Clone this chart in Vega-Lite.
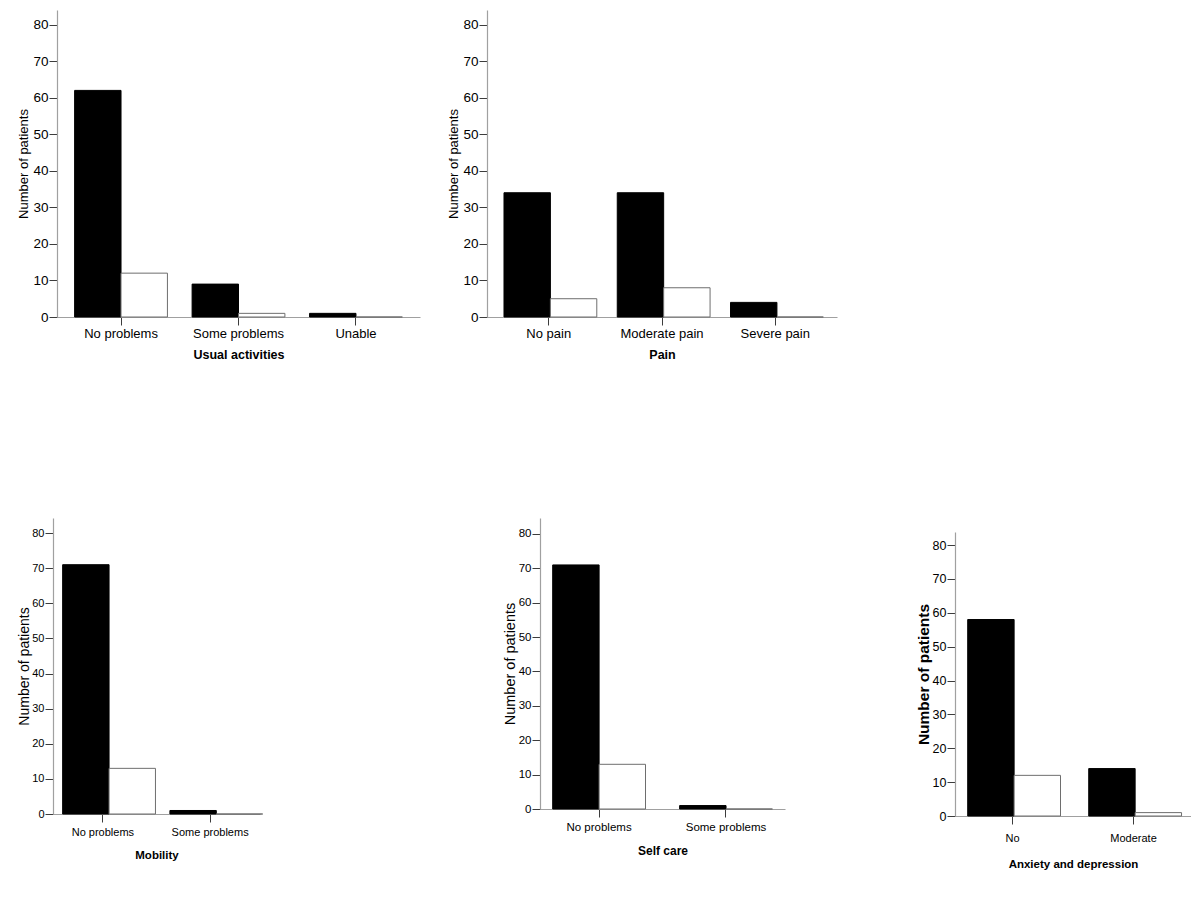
{
  "$schema": "https://vega.github.io/schema/vega-lite/v6.json",
  "padding": {"left": 17, "top": 10, "right": 0, "bottom": 0},
  "background": "#ffffff",
  "spacing": 157,
  "vconcat": [
    {
      "hconcat": [
        {
          "width": 4, "height": 10,
          "data": {"values": []},
          "mark": "point",
          "encoding": {}
        },
        {
          "width": 363, "height": 307,
          "data": {"values": [
            {"level": "No problems", "group": "Group A", "patients": 62},
            {"level": "No problems", "group": "Group B", "patients": 12},
            {"level": "Some problems", "group": "Group A", "patients": 9},
            {"level": "Some problems", "group": "Group B", "patients": 1},
            {"level": "Unable", "group": "Group A", "patients": 1},
            {"level": "Unable", "group": "Group B", "patients": 0}
          ]},
          "mark": {"type": "bar", "strokeWidth": 1},
          "encoding": {
            "x": {"field": "level", "type": "nominal", "sort": ["No problems", "Some problems", "Unable"], "scale": {"paddingInner": 0.21, "paddingOuter": 0.15}, "title": "Usual activities", "axis": {"labelFontSize": 13, "titleFontSize": 12.5, "labelPadding": 2, "titlePadding": 8}},
            "xOffset": {"field": "group", "type": "nominal", "sort": ["Group A", "Group B"]},
            "y": {"field": "patients", "type": "quantitative", "scale": {"domain": [0, 84], "nice": false}, "title": "Number of patients", "axis": {"values": [0, 10, 20, 30, 40, 50, 60, 70, 80], "labelFontSize": 13.5, "titleFontSize": 13, "titlePadding": 2}},
            "fill": {"field": "group", "type": "nominal", "scale": {"domain": ["Group A", "Group B"], "range": ["#000000", "#ffffff"]}, "legend": null},
            "stroke": {"field": "group", "type": "nominal", "scale": {"domain": ["Group A", "Group B"], "range": ["#000000", "#6e6e6e"]}, "legend": null}
          }
        },
        {
          "width": 67, "height": 10,
          "data": {"values": []},
          "mark": "point",
          "encoding": {}
        },
        {
          "width": 350, "height": 307,
          "data": {"values": [
            {"level": "No pain", "group": "Group A", "patients": 34},
            {"level": "No pain", "group": "Group B", "patients": 5},
            {"level": "Moderate pain", "group": "Group A", "patients": 34},
            {"level": "Moderate pain", "group": "Group B", "patients": 8},
            {"level": "Severe pain", "group": "Group A", "patients": 4},
            {"level": "Severe pain", "group": "Group B", "patients": 0}
          ]},
          "mark": {"type": "bar", "strokeWidth": 1},
          "encoding": {
            "x": {"field": "level", "type": "nominal", "sort": ["No pain", "Moderate pain", "Severe pain"], "scale": {"paddingInner": 0.21, "paddingOuter": 0.15}, "title": "Pain", "axis": {"labelFontSize": 13, "titleFontSize": 12.5, "labelPadding": 2, "titlePadding": 8}},
            "xOffset": {"field": "group", "type": "nominal", "sort": ["Group A", "Group B"]},
            "y": {"field": "patients", "type": "quantitative", "scale": {"domain": [0, 84], "nice": false}, "title": "Number of patients", "axis": {"values": [0, 10, 20, 30, 40, 50, 60, 70, 80], "labelFontSize": 13.5, "titleFontSize": 13, "titlePadding": 2}},
            "fill": {"field": "group", "type": "nominal", "scale": {"domain": ["Group A", "Group B"], "range": ["#000000", "#ffffff"]}, "legend": null},
            "stroke": {"field": "group", "type": "nominal", "scale": {"domain": ["Group A", "Group B"], "range": ["#000000", "#6e6e6e"]}, "legend": null}
          }
        }
      ],
      "spacing": 0,
      "bounds": "flush"
    },
    {
      "hconcat": [
        {
          "width": 207, "height": 296,
          "data": {"values": [
            {"level": "No problems", "group": "Group A", "patients": 71},
            {"level": "No problems", "group": "Group B", "patients": 13},
            {"level": "Some problems", "group": "Group A", "patients": 1},
            {"level": "Some problems", "group": "Group B", "patients": 0}
          ]},
          "mark": {"type": "bar", "strokeWidth": 1},
          "encoding": {
            "x": {"field": "level", "type": "nominal", "sort": ["No problems", "Some problems"], "scale": {"paddingInner": 0.25, "paddingOuter": 0.09}, "title": "Mobility", "axis": {"labelFontSize": 11, "titleFontSize": 11.5, "labelPadding": 4, "titlePadding": 12}},
            "xOffset": {"field": "group", "type": "nominal", "sort": ["Group A", "Group B"]},
            "y": {"field": "patients", "type": "quantitative", "scale": {"domain": [0, 84.3], "nice": false}, "title": "Number of patients", "axis": {"values": [0, 10, 20, 30, 40, 50, 60, 70, 80], "labelFontSize": 11, "titleFontSize": 14, "titlePadding": 0.5}},
            "fill": {"field": "group", "type": "nominal", "scale": {"domain": ["Group A", "Group B"], "range": ["#000000", "#ffffff"]}, "legend": null},
            "stroke": {"field": "group", "type": "nominal", "scale": {"domain": ["Group A", "Group B"], "range": ["#000000", "#6e6e6e"]}, "legend": null}
          }
        },
        {
          "width": 280, "height": 10,
          "data": {"values": []},
          "mark": "point",
          "encoding": {}
        },
        {
          "width": 245, "height": 291,
          "data": {"values": [
            {"level": "No problems", "group": "Group A", "patients": 71},
            {"level": "No problems", "group": "Group B", "patients": 13},
            {"level": "Some problems", "group": "Group A", "patients": 1},
            {"level": "Some problems", "group": "Group B", "patients": 0}
          ]},
          "mark": {"type": "bar", "strokeWidth": 1},
          "encoding": {
            "x": {"field": "level", "type": "nominal", "sort": ["No problems", "Some problems"], "scale": {"paddingInner": 0.27, "paddingOuter": 0.1}, "title": "Self care", "axis": {"labelFontSize": 11.5, "titleFontSize": 12, "labelPadding": 4.5, "titlePadding": 12}},
            "xOffset": {"field": "group", "type": "nominal", "sort": ["Group A", "Group B"]},
            "y": {"field": "patients", "type": "quantitative", "scale": {"domain": [0, 84.65], "nice": false}, "title": "Number of patients", "axis": {"values": [0, 10, 20, 30, 40, 50, 60, 70, 80], "labelFontSize": 11.5, "titleFontSize": 14.5, "titlePadding": 0.5}},
            "fill": {"field": "group", "type": "nominal", "scale": {"domain": ["Group A", "Group B"], "range": ["#000000", "#ffffff"]}, "legend": null},
            "stroke": {"field": "group", "type": "nominal", "scale": {"domain": ["Group A", "Group B"], "range": ["#000000", "#6e6e6e"]}, "legend": null}
          }
        },
        {
          "width": 170, "height": 10,
          "data": {"values": []},
          "mark": "point",
          "encoding": {}
        },
        {
          "vconcat": [
            {
              "width": 236, "height": 14,
              "data": {"values": []},
              "mark": "point",
              "encoding": {}
            },
            {
              "width": 236, "height": 284,
              "data": {"values": [
                {"level": "No", "group": "Group A", "patients": 58},
                {"level": "No", "group": "Group B", "patients": 12},
                {"level": "Moderate", "group": "Group A", "patients": 14},
                {"level": "Moderate", "group": "Group B", "patients": 1}
              ]},
              "mark": {"type": "bar", "strokeWidth": 1},
              "encoding": {
                "x": {"field": "level", "type": "nominal", "sort": ["No", "Moderate"], "scale": {"paddingInner": 0.26, "paddingOuter": 0.105}, "title": "Anxiety and depression", "axis": {"labelFontSize": 11, "titleFontSize": 11.5, "labelPadding": 8, "titlePadding": 15.5}},
                "xOffset": {"field": "group", "type": "nominal", "sort": ["Group A", "Group B"]},
                "y": {"field": "patients", "type": "quantitative", "scale": {"domain": [0, 83.84], "nice": false}, "title": "Number of patients", "axis": {"values": [0, 10, 20, 30, 40, 50, 60, 70, 80], "labelFontSize": 12.5, "titleFontSize": 15.5, "titleFontWeight": "bold", "titlePadding": 0.5}},
                "fill": {"field": "group", "type": "nominal", "scale": {"domain": ["Group A", "Group B"], "range": ["#000000", "#ffffff"]}, "legend": null},
                "stroke": {"field": "group", "type": "nominal", "scale": {"domain": ["Group A", "Group B"], "range": ["#000000", "#6e6e6e"]}, "legend": null}
              }
            }
          ],
          "spacing": 0,
          "bounds": "flush"
        }
      ],
      "spacing": 0,
      "bounds": "flush"
    }
  ],
  "config": {
    "view": {"stroke": null},
    "font": "Liberation Sans",
    "axis": {"grid": false, "domainColor": "#a0a0a0", "domainWidth": 1.2, "tickColor": "#3c3c3c", "tickSize": 8, "labelColor": "#000000", "titleColor": "#000000", "labelFont": "Liberation Sans", "titleFont": "Liberation Sans"},
    "axisX": {"labelAngle": 0, "titleFontWeight": "bold", "bandPosition": 0.5},
    "axisY": {"titleFontWeight": "normal", "labelPadding": 1}
  }
}
